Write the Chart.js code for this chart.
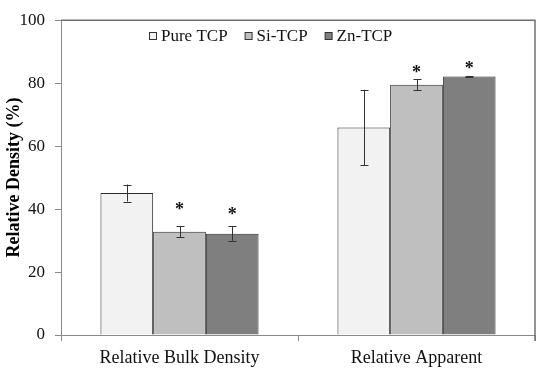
<!DOCTYPE html>
<html>
<head>
<meta charset="utf-8">
<script src="https://cdn.jsdelivr.net/npm/chart.js@4"></script>
<style>
html,body{margin:0;padding:0;background:#fff;}
#wrap{width:550px;height:375px;position:relative;}
</style>
</head>
<body>
<div id="wrap"><canvas id="c" width="550" height="375"></canvas></div>
<script>
const categories = ["Relative Bulk Density", "Relative Apparent"];
const seriesNames = ["Pure TCP", "Si-TCP", "Zn-TCP"];
const pureTCP = [45.1, 65.9];
const siTCP = [32.8, 79.5];
const znTCP = [32.2, 82.1];
const pureErr = [2.7, 12.0];
const siErr = [1.7, 1.7];
const znErr = [2.3, 0.2];
// value positions of the significance asterisks (null = none)
const pureStar = [null, null];
const siStar = [40.9, 84.3];
const znStar = [39.3, 85.8];
const yTicks = [0, 20, 40, 60, 80, 100];

const colors = ["#f2f2f2", "#bfbfbf", "#7f7f7f"];
const FONT = "'Liberation Serif', 'Times New Roman', serif";

const seriesValues = [pureTCP, siTCP, znTCP];
const seriesErrs = [pureErr, siErr, znErr];
const seriesStars = [pureStar, siStar, znStar];

const extras = {
  id: 'extras',
  afterDatasetsDraw(chart) {
    const ctx = chart.ctx;
    const y = chart.scales.y;
    const ca = chart.chartArea;
    ctx.save();
    // error bars and asterisks
    chart.data.datasets.forEach((ds, di) => {
      const meta = chart.getDatasetMeta(di);
      meta.data.forEach((bar, i) => {
        const v = ds.data[i];
        const e = seriesErrs[di][i];
        const x = Math.round(bar.x) + 0.5;
        const yt = y.getPixelForValue(v + e);
        const yb = y.getPixelForValue(v - e);
        ctx.strokeStyle = '#333';
        ctx.lineWidth = 1;
        ctx.beginPath();
        ctx.moveTo(x, yt); ctx.lineTo(x, yb);
        ctx.moveTo(x - 4, Math.round(yt) + 0.5); ctx.lineTo(x + 4, Math.round(yt) + 0.5);
        ctx.moveTo(x - 4, Math.round(yb) + 0.5); ctx.lineTo(x + 4, Math.round(yb) + 0.5);
        ctx.stroke();
        const s = seriesStars[di][i];
        if (s !== null) {
          ctx.fillStyle = '#111';
          ctx.font = "bold 18px " + FONT;
          ctx.textAlign = 'center';
          ctx.textBaseline = 'middle';
          ctx.fillText('*', bar.x, y.getPixelForValue(s) + 4);
        }
      });
    });
    // top and right frame
    ctx.strokeStyle = '#707070';
    ctx.lineWidth = 1.5;
    ctx.beginPath();
    ctx.moveTo(ca.left, ca.top);
    ctx.lineTo(ca.right, ca.top);
    ctx.lineTo(ca.right, ca.bottom + 6);
    ctx.stroke();
    // legend
    ctx.font = "17px " + FONT;
    ctx.textBaseline = 'middle';
    ctx.textAlign = 'left';
    let lx = 149;
    const ly = 36;
    chart.data.datasets.forEach((ds) => {
      ctx.fillStyle = ds.backgroundColor;
      ctx.fillRect(lx + 0.5, ly - 3.5, 7, 7);
      ctx.strokeStyle = '#333';
      ctx.lineWidth = 1;
      ctx.strokeRect(lx + 0.5, ly - 3.5, 7, 7);
      ctx.fillStyle = '#111';
      ctx.fillText(ds.label, lx + 12, ly + 1);
      lx += 12 + ctx.measureText(ds.label).width + 17;
    });
    ctx.restore();
  }
};

new Chart(document.getElementById('c'), {
  type: 'bar',
  data: {
    labels: categories,
    datasets: seriesNames.map((n, i) => ({
      label: n,
      data: seriesValues[i],
      backgroundColor: colors[i],
      borderColor: '#2a2a2a',
      borderWidth: 1,
      categoryPercentage: 0.667,
      barPercentage: 1.0
    }))
  },
  options: {
    responsive: false,
    animation: false,
    devicePixelRatio: 1,
    layout: { padding: { top: 17, right: 15, left: 0, bottom: 0 } },
    plugins: { legend: { display: false }, tooltip: { enabled: false } },
    scales: {
      x: {
        grid: { display: true, drawOnChartArea: false, tickLength: 6, color: '#8a8a8a', offset: true },
        border: { display: true, color: '#8a8a8a', width: 1 },
        ticks: { color: '#111', font: { family: FONT, size: 18 }, padding: 6, maxRotation: 0 },
        afterFit(s) { s.height = 40; }
      },
      y: {
        min: 0, max: 100,
        afterBuildTicks(s) { s.ticks = yTicks.map(v => ({ value: v })); },
        grid: { display: true, drawOnChartArea: false, tickLength: 6, color: '#8a8a8a' },
        border: { display: true, color: '#8a8a8a', width: 1 },
        ticks: { color: '#111', font: { family: FONT, size: 17 }, padding: 10 },
        title: { display: true, text: 'Relative Density (%)', color: '#000', font: { family: FONT, size: 18, weight: 'bold' }, padding: { top: 4, bottom: 0 } },
        afterFit(s) { s.width = 61; }
      }
    }
  },
  plugins: [extras]
});
</script>
</body>
</html>
